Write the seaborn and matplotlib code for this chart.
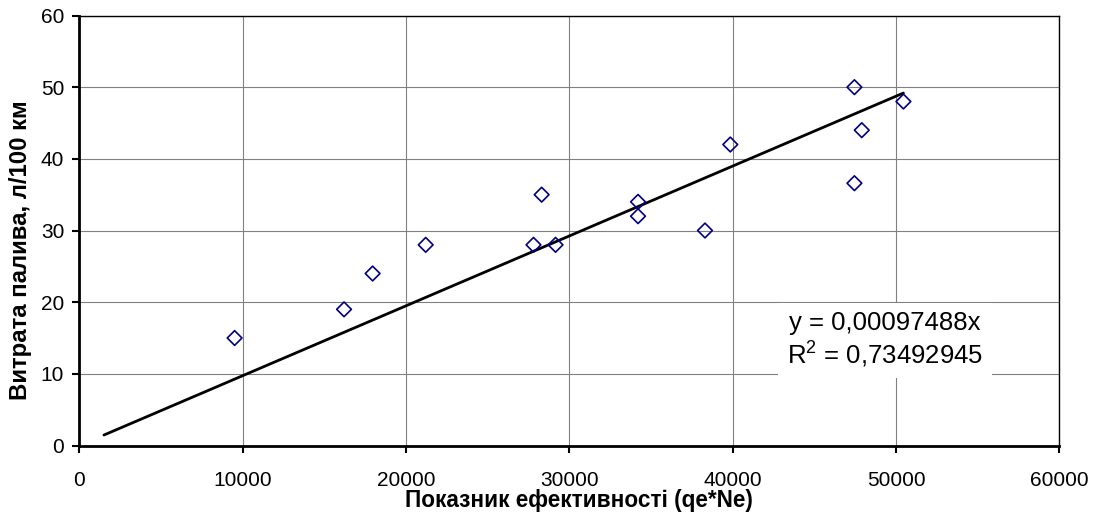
import matplotlib
matplotlib.use('Agg')
import matplotlib.pyplot as plt
import seaborn as sns
import pandas as pd

# ── Data ────────────────────────────────────────────────────
efficiency = [9500, 16200, 17950, 21200, 27800, 28300, 29150, 34200, 34200,
              38300, 39850, 47450, 47450, 47900, 50450]
fuel_use   = [15, 19, 24, 28, 28, 35, 28, 34, 32,
              30, 42, 50, 36.6, 44, 48]

slope      = 0.00097488
r_squared  = 0.73492945
trend_x    = [1500, 50450]

x_ticks = [0, 10000, 20000, 30000, 40000, 50000, 60000]
y_ticks = [0, 10, 20, 30, 40, 50, 60]

df = pd.DataFrame({'x': efficiency, 'y': fuel_use})
trend = pd.DataFrame({'x': trend_x, 'y': [slope * v for v in trend_x]})

# ── Style ───────────────────────────────────────────────────
sns.set_style('white')
plt.rcParams['font.family'] = ['Liberation Sans', 'DejaVu Sans']
plt.rcParams['mathtext.fontset'] = 'custom'
plt.rcParams['mathtext.rm'] = 'Liberation Sans'
plt.rcParams['text.color'] = 'black'
plt.rcParams['axes.labelcolor'] = 'black'
plt.rcParams['xtick.color'] = 'black'
plt.rcParams['ytick.color'] = 'black'

fig = plt.figure(figsize=(10.96, 5.24), dpi=100)
ax = fig.add_axes([0.0725, 0.1498, 0.8941, 0.8206])

ax.grid(True, color='#808080', linewidth=0.8)
ax.set_axisbelow(True)

sns.lineplot(data=trend, x='x', y='y', color='black', linewidth=2, ax=ax, zorder=3)
sns.scatterplot(data=df, x='x', y='y', marker='D', s=56,
                facecolor='none', edgecolor='#000080', linewidth=1.2,
                ax=ax, zorder=4)

ax.set_xlim(0, 60000)
ax.set_ylim(0, 60)
ax.set_xticks(x_ticks)
ax.set_yticks(y_ticks)
ax.tick_params(axis='both', labelsize=15, direction='out', length=5,
               width=1.5, left=True, bottom=True)
ax.tick_params(axis='x', pad=13)
ax.tick_params(axis='y', pad=6)

for side in ['left', 'bottom']:
    ax.spines[side].set_linewidth(2)
    ax.spines[side].set_color('black')
for side in ['top', 'right']:
    ax.spines[side].set_linewidth(1)
    ax.spines[side].set_color('black')

ax.set_xlabel('Показник ефективності (qe*Ne)', fontsize=16.3, fontweight='bold')
ax.set_ylabel('Витрата палива, л/100 км', fontsize=17.3, fontweight='bold')
ax.xaxis.set_label_coords(0.51, -0.1)
ax.yaxis.set_label_coords(-0.048, 0.455)

eq = f'y = {slope:.8f}x'.replace('.', ',')
r2 = f'R$^{{2}}$ = {r_squared:.8f}'.replace('.', ',')
ax.text(49300, 14.7, eq + '\n' + r2, ha='center', va='center', fontsize=18.5,
        linespacing=1.15, zorder=5,
        bbox=dict(boxstyle='square,pad=0.35', facecolor='white', edgecolor='none'))

plt.savefig('out.png', dpi=100)
